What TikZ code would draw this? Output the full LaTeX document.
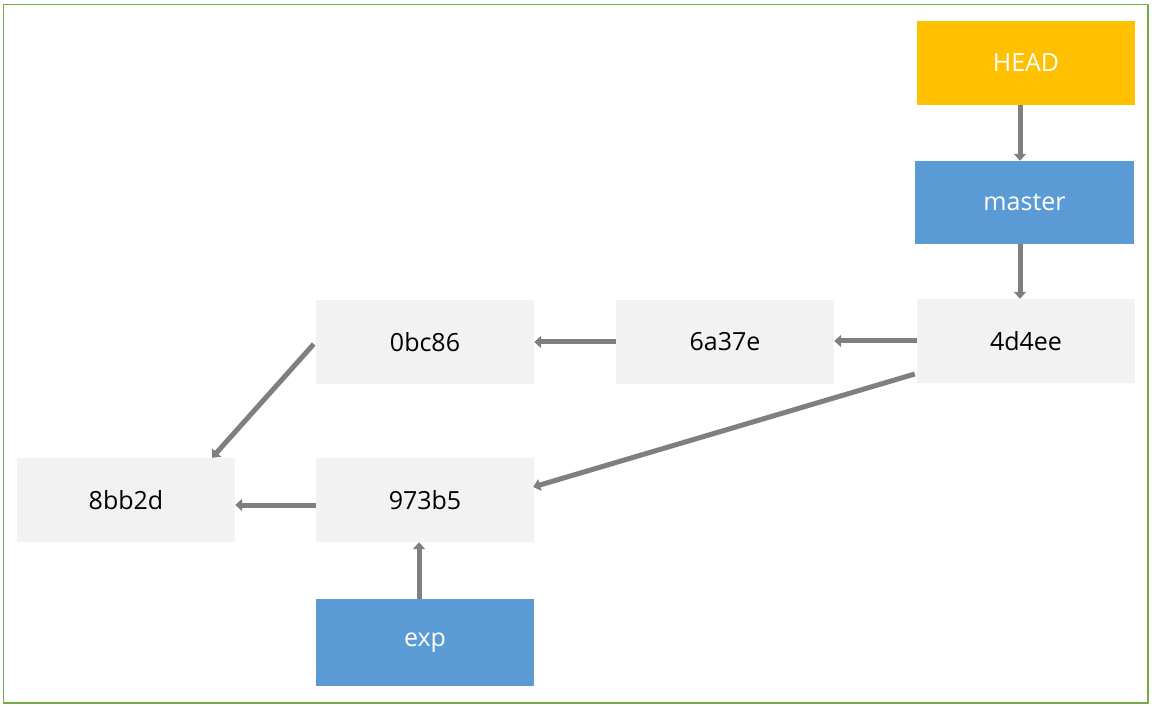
\documentclass[tikz,border=0pt]{standalone}
\usepackage{fontspec}
\setmainfont{Open Sans}
\usetikzlibrary{arrows.meta,calc}
\definecolor{gitorange}{HTML}{FFC000}
\definecolor{gitblue}{HTML}{5B9BD5}
\definecolor{gitgray}{HTML}{F2F2F2}
\definecolor{arrowgray}{HTML}{7F7F7F}
\definecolor{framegreen}{HTML}{70AD47}
\begin{document}
\begin{tikzpicture}[x=1pt,y=-1pt,
  box/.style={draw=none,minimum width=218pt,minimum height=84pt,inner sep=0pt,font=\fontsize{25}{30}\selectfont},
  commit/.style={box,fill=gitgray,text=black},
  branch/.style={box,fill=gitblue,text=white},
  headbox/.style={box,fill=gitorange,text=white},
  conn/.style={draw=arrowgray,line width=5pt,-{Triangle[width=12pt,length=7pt]}}]
\useasboundingbox (0,0) rectangle (1154,708);
\draw[framegreen,line width=1.3pt] (3.5,4.5) rectangle (1148,703);
\node[headbox] (head) at (1026,63) {HEAD};
\node[branch,minimum width=219pt,minimum height=83pt] (master) at (1024.5,202.5) {master};
\node[commit] (c4d4ee) at (1026,341) {4d4ee};
\node[commit] (c6a37e) at (725,342) {6a37e};
\node[commit] (c0bc86) at (425,342) {0bc86};
\node[commit] (c8bb2d) at (126,500) {8bb2d};
\node[commit] (c973b5) at (425,500) {973b5};
\node[branch,minimum height=87pt] (exp) at (425,642.5) {exp};
\draw[conn] ([xshift=-6pt]head.south) -- ([xshift=-4.5pt]master.north);
\draw[conn] ([xshift=-4.5pt]master.south) -- ([xshift=-6pt]c4d4ee.north);
\draw[conn] (c4d4ee.west) -- (c6a37e.east|-c4d4ee.west);
\draw[conn] (c6a37e.west) -- (c0bc86.east);
\draw[conn] ([xshift=-2pt,yshift=-2pt]c0bc86.west) -- ([xshift=86pt]c8bb2d.north);
\draw[conn] ([xshift=-2pt,yshift=-33pt]c4d4ee.west) -- ([xshift=-1pt,yshift=13pt]c973b5.east);
\draw[conn] ([yshift=-5pt]c973b5.west) -- ([yshift=-5pt]c8bb2d.east);
\draw[conn] ([xshift=-6pt]exp.north) -- ([xshift=-6pt]c973b5.south);
\end{tikzpicture}
\end{document}
